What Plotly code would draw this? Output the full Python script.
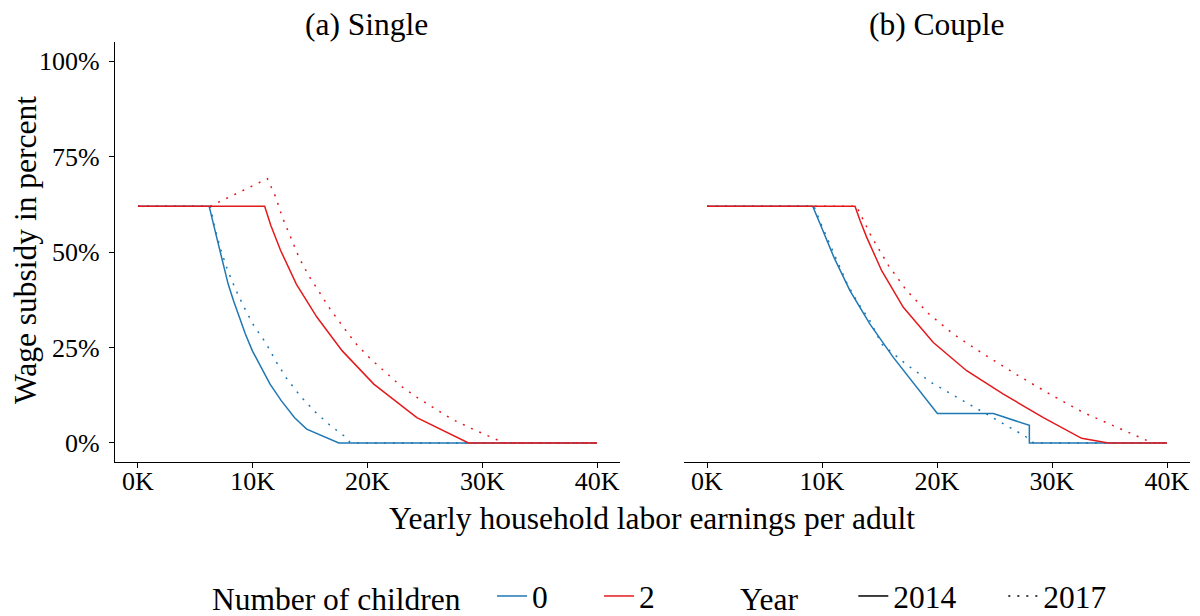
import plotly.graph_objects as go

# ---------------- data (x in thousands of earnings, y in percent) ----------------
single_0_2014_x = [0, 6.2, 6.78, 7.13, 7.48, 7.86, 8.32, 8.81, 9.36, 9.97, 10.7, 11.51, 12.5, 13.65, 14.7, 17.5, 40]
single_0_2014_y = [62, 62, 54.8, 50.4, 46.0, 41.6, 37.3, 32.9, 28.5, 24.1, 19.8, 15.4, 11.0, 6.6, 3.6, 0, 0]

single_0_2017_x = [0, 6.3, 6.72, 7.22, 7.8, 8.52, 9.25, 10.1, 11.16, 12.03, 13.0, 14.17, 15.42, 16.7, 18.15, 18.5, 40]
single_0_2017_y = [62, 62, 55.9, 50.6, 45.3, 40.1, 35.5, 30.7, 26.1, 21.3, 16.7, 12.2, 8.2, 4.7, 1.4, 0, 0]

single_2_2014_x = [0, 11.04, 11.57, 12.43, 13.8, 15.6, 17.8, 20.55, 24.3, 26.35, 28.8, 40]
single_2_2014_y = [62, 62, 57.0, 50.4, 41.6, 32.9, 24.1, 15.4, 6.6, 3.6, 0, 0]

single_2_2017_x = [0, 6.3, 11.28, 12.0, 12.58, 13.3, 14.03, 14.84, 15.83, 16.78, 17.8, 18.96, 20.2, 21.57,
                   22.87, 24.32, 25.77, 27.36, 29.04, 30.7, 31.57, 31.9, 40]
single_2_2017_y = [62, 62, 69.2, 64.4, 59.1, 53.9, 48.6, 44.0, 39.5, 34.9, 30.7, 26.1, 22.2, 18.5,
                   15.0, 11.9, 9.1, 6.2, 3.8, 1.6, 0.5, 0, 0]

couple_0_2014_x = [0, 9.19, 9.83, 11.04, 12.43, 14.17, 16.2, 18.52, 20.03, 24.9, 28.03, 28.03, 40]
couple_0_2014_y = [62, 62, 57.4, 48.6, 39.9, 31.1, 22.4, 13.6, 7.7, 7.7, 4.6, 0, 0]

couple_0_2017_x = [0, 9.3, 9.91, 10.64, 11.42, 12.2, 13.1, 14.17, 15.19, 17.36, 19.62, 22.0, 24.32, 25.9, 27.65, 28.4, 40]
couple_0_2017_y = [62, 62, 57.4, 52.1, 46.9, 41.6, 36.8, 32.0, 25.9, 20.5, 15.6, 11.5, 7.5, 4.9, 1.8, 0, 0]

couple_2_2014_x = [0, 12.87, 13.3, 13.88, 15.19, 17.07, 19.68, 22.58, 25.77, 29.25, 32.58, 34.9, 40]
couple_2_2014_y = [62, 62, 58.3, 53.9, 45.1, 35.5, 26.3, 18.9, 12.8, 6.6, 1.2, 0, 0]

couple_2_2017_x = [0, 13.0, 14.32, 15.77, 17.36, 19.25, 21.42, 24.03, 27.07, 30.1, 32.7, 35.04, 37.5, 38.5, 38.9, 40]
couple_2_2017_y = [62, 62, 53.9, 46.5, 39.9, 33.9, 28.5, 23.3, 17.6, 12.3, 8.0, 4.9, 1.6, 0.3, 0, 0]

x_tickvals = [0, 10, 20, 30, 40]
x_ticktext = ["0K", "10K", "20K", "30K", "40K"]
y_tickvals = [0, 25, 50, 75, 100]
y_ticktext = ["0%", "25%", "50%", "75%", "100%"]

panel_titles = ["(a) Single", "(b) Couple"]
x_title = "Yearly household labor earnings per adult"
y_title = "Wage subsidy in percent"
legend_children_title = "Number of children"
legend_year_title = "Year"

# ---------------- style ----------------
BLUE = "#1F78B4"
RED = "#E31A1C"
FONT = "Liberation Serif"
BIG = 31.5
TICK = 26
LW = 1.5
DOT = "2px,7px"
NBSP = "\u00a0"

fig = go.Figure()

series = [
    ("x", "y", single_0_2014_x, single_0_2014_y, BLUE, "solid"),
    ("x", "y", single_0_2017_x, single_0_2017_y, BLUE, DOT),
    ("x", "y", single_2_2014_x, single_2_2014_y, RED, "solid"),
    ("x", "y", single_2_2017_x, single_2_2017_y, RED, DOT),
    ("x2", "y2", couple_0_2014_x, couple_0_2014_y, BLUE, "solid"),
    ("x2", "y2", couple_0_2017_x, couple_0_2017_y, BLUE, DOT),
    ("x2", "y2", couple_2_2014_x, couple_2_2014_y, RED, "solid"),
    ("x2", "y2", couple_2_2017_x, couple_2_2017_y, RED, DOT),
]
for xa, ya, xs, ys, col, dash in series:
    fig.add_trace(go.Scatter(x=xs, y=ys, xaxis=xa, yaxis=ya, mode="lines",
                             line=dict(color=col, width=LW, dash=dash),
                             showlegend=False, hoverinfo="skip"))

# legend entries
legend_items = [
    ("0", BLUE, "solid", "legend"),
    ("2", RED, "solid", "legend"),
    ("2014", "black", "solid", "legend2"),
    ("2017", "black", DOT, "legend2"),
]
for name, col, dash, lg in legend_items:
    fig.add_trace(go.Scatter(x=[None], y=[None], mode="lines", name=name,
                             line=dict(color=col, width=LW, dash=dash),
                             legend=lg, showlegend=True))

axis_common = dict(showline=True, linecolor="black", linewidth=1.2, ticks="outside",
                   ticklen=5, tickcolor="black", tickwidth=1.2, showgrid=False,
                   zeroline=False, tickfont=dict(family=FONT, size=TICK, color="black"))

fig.update_layout(
    width=1200, height=616,
    margin=dict(l=0, r=0, t=0, b=0, autoexpand=False),
    paper_bgcolor="white", plot_bgcolor="white",
    font=dict(family=FONT, size=BIG, color="black"),
    xaxis=dict(domain=[115/1200, 620/1200], range=[-2, 42], tickvals=x_tickvals,
               ticktext=x_ticktext, anchor="y", automargin=False, ticklabelstandoff=-9,
               **axis_common),
    yaxis=dict(domain=[1-462/616, 1-42/616], range=[-5, 105], tickvals=y_tickvals,
               ticktext=y_ticktext, anchor="x", automargin=False, ticklabelstandoff=4,
               **axis_common),
    xaxis2=dict(domain=[684/1200, 1190/1200], range=[-2, 42], tickvals=x_tickvals,
                ticktext=x_ticktext, anchor="y2", automargin=False, ticklabelstandoff=-9,
                **axis_common),
    yaxis2=dict(domain=[1-462/616, 1-42/616], range=[-5, 105], anchor="x2",
                showline=False, showticklabels=False, ticks="", showgrid=False, zeroline=False),
    legend=dict(orientation="h", x=210/1200, xanchor="left", y=1-596/616, yanchor="middle",
                title=dict(text=legend_children_title + NBSP * 3, font=dict(family=FONT, size=BIG)),
                font=dict(family=FONT, size=BIG), entrywidth=62, bgcolor="rgba(0,0,0,0)"),
    legend2=dict(orientation="h", x=738/1200, xanchor="left", y=1-596/616, yanchor="middle",
                 title=dict(text=legend_year_title + NBSP * 6, font=dict(family=FONT, size=BIG)),
                 font=dict(family=FONT, size=BIG), entrywidth=105, bgcolor="rgba(0,0,0,0)"),
)

annos = [
    dict(text=panel_titles[0], x=366/1200, y=1-24/616),
    dict(text=panel_titles[1], x=937/1200, y=1-24/616),
    dict(text=x_title, x=652/1200, y=1-518/616),
    dict(text=y_title, x=25/1200, y=1-250/616, textangle=-90),
]
for a in annos:
    fig.add_annotation(xref="paper", yref="paper", showarrow=False,
                       xanchor="center", yanchor="middle",
                       font=dict(family=FONT, size=BIG, color="black"), **a)

fig.write_html("out.html")
